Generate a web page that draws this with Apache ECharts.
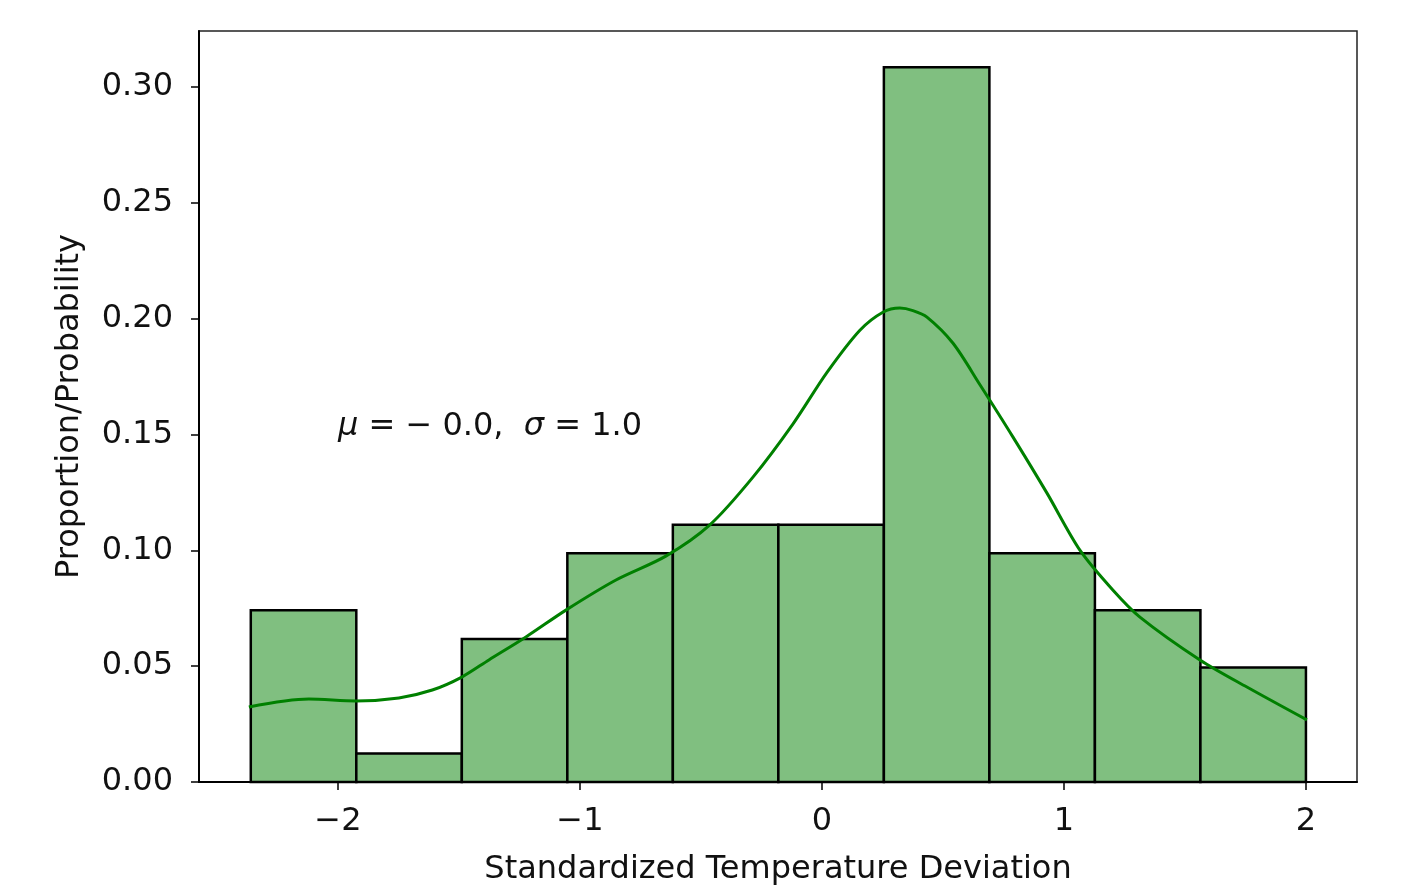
<!DOCTYPE html>
<html>
<head>
<meta charset="utf-8">
<script src="https://cdn.jsdelivr.net/npm/echarts@6/dist/echarts.min.js"></script>
<style>
html,body{margin:0;padding:0;background:#fff;}
#chart{width:1405px;height:891px;}
</style>
</head>
<body>
<div id="chart"></div>
<script>
// Histogram bin edges (standardized deviation)
const binEdges = [-2.36, -1.924, -1.488, -1.052, -0.616, -0.18, 0.256, 0.692, 1.128, 1.564, 2.0];
// Proportion in each bin
const proportions = [0.0741, 0.0123, 0.0617, 0.0988, 0.1111, 0.1111, 0.3086, 0.0988, 0.0741, 0.0494];
// KDE curve (x, density scaled to proportion)
const kdeX = [-2.368, -2.12, -1.926, -1.748, -1.61, -1.488, -1.376, -1.223, -1.058, -0.851, -0.645, -0.463, -0.285, -0.12, 0.021, 0.157, 0.252, 0.322, 0.376, 0.434, 0.541, 0.653, 0.789, 0.93, 1.066, 1.202, 1.314, 1.562, 1.756, 2.004];
const kdeY = [0.0324, 0.0358, 0.035, 0.0363, 0.0397, 0.0453, 0.0527, 0.0626, 0.0742, 0.0872, 0.0975, 0.111, 0.1316, 0.1545, 0.1768, 0.195, 0.2028, 0.2046, 0.2035, 0.2007, 0.1895, 0.1715, 0.149, 0.1247, 0.1001, 0.0829, 0.0712, 0.0527, 0.041, 0.0268];
const xTicks = [-2, -1, 0, 1, 2];
const yTicks = [0, 0.05, 0.10, 0.15, 0.20, 0.25, 0.30];
const xTitle = 'Standardized Temperature Deviation';
const yTitle = 'Proportion/Probability';
const annotation = { x: -2.0, y: 0.1523, mu: '− 0.0', sigma: '1.0' };

const FONT = 'DejaVu Sans';
const chart = echarts.init(document.getElementById('chart'));

const barData = proportions.map((p, i) => [binEdges[i], binEdges[i + 1], p]);
const kdeData = kdeX.map((x, i) => [x, kdeY[i]]);

chart.setOption({
  animation: false,
  backgroundColor: '#fff',
  grid: {
    left: 199, right: 48, top: 31, bottom: 109,
    outerBoundsMode: 'none', containLabel: false,
    show: true, borderColor: '#222', borderWidth: 1.5, backgroundColor: 'transparent'
  },
  xAxis: {
    type: 'value',
    min: -2.574, max: 2.211,
    splitLine: { show: false },
    axisLine: { onZero: false, lineStyle: { color: '#000', width: 2 } },
    axisTick: { show: true, length: 8, customValues: xTicks, lineStyle: { color: '#000', width: 1.5 } },
    axisLabel: {
      customValues: xTicks, margin: 24, color: '#111', fontFamily: FONT, fontSize: 32,
      formatter: v => (v < 0 ? '−' + Math.abs(v) : String(v))
    },
    name: xTitle, nameLocation: 'middle', nameGap: 72,
    nameTextStyle: { color: '#111', fontFamily: FONT, fontSize: 32 }
  },
  yAxis: {
    type: 'value',
    min: 0, max: 0.3242,
    splitLine: { show: false },
    axisLine: { onZero: false, lineStyle: { color: '#000', width: 2 } },
    axisTick: { show: true, length: 8, customValues: yTicks, lineStyle: { color: '#000', width: 1.5 } },
    axisLabel: {
      customValues: yTicks, margin: 26, color: '#111', fontFamily: FONT, fontSize: 32,
      formatter: v => v.toFixed(2)
    },
    name: yTitle, nameLocation: 'middle', nameGap: 113,
    nameTextStyle: { color: '#111', fontFamily: FONT, fontSize: 32 }
  },
  series: [
    {
      type: 'custom',
      data: barData,
      encode: { x: [0, 1], y: 2 },
      renderItem: function (params, api) {
        const p0 = api.coord([api.value(0), 0]);
        const p1 = api.coord([api.value(1), api.value(2)]);
        return {
          type: 'rect',
          shape: { x: p0[0], y: p1[1], width: p1[0] - p0[0], height: p0[1] - p1[1] },
          style: { fill: '#80bf80', stroke: '#000', lineWidth: 2.5 }
        };
      },
      z: 2
    },
    {
      type: 'line',
      data: kdeData,
      smooth: 0.3,
      showSymbol: false,
      lineStyle: { color: '#008000', width: 3 },
      z: 3
    }
  ]
});

const pos = chart.convertToPixel({ gridIndex: 0 }, [annotation.x, annotation.y]);
chart.setOption({
  graphic: [{
    type: 'text',
    left: pos[0],
    top: pos[1] - 19,
    z: 10,
    style: {
      text: '{i|μ} = ' + annotation.mu + ',  {i|σ} = ' + annotation.sigma,
      fill: '#111',
      font: '32px "DejaVu Sans"',
      rich: {
        i: { fontStyle: 'italic', fontFamily: FONT, fontSize: 32, fill: '#111' }
      }
    }
  }]
});
</script>
</body>
</html>
